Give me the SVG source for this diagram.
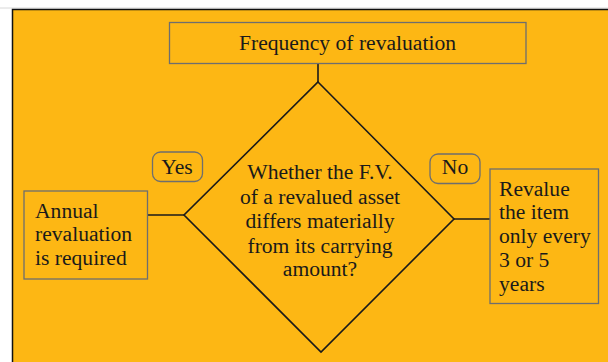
<svg xmlns="http://www.w3.org/2000/svg" width="608" height="362" viewBox="0 0 608 362">
<style>
  .box { fill: none; stroke: #6e6e6e; stroke-width: 1.3; }
  .pill { fill: none; stroke: #6e6e6e; stroke-width: 1.3; }
  .line { fill: none; stroke: #1a1a1a; stroke-width: 1.6; }
  text { font-family: "Liberation Serif", "DejaVu Serif", serif; font-size: 21.6px; fill: #1a1a1a; }
  .c { text-anchor: middle; }
</style>
<rect x="0" y="0" width="608" height="362" fill="#ffffff"/>
<line x1="0" y1="8" x2="608" y2="8" stroke="#d8d8d8" stroke-width="1"/>
<rect x="12.5" y="9.5" width="600" height="360" fill="#FDB714" stroke="#111111" stroke-width="1.5"/>

<g id="connectors">
  <line class="line" x1="318" y1="63.5" x2="318" y2="82"/>
  <line class="line" x1="148" y1="215" x2="184" y2="215"/>
  <line class="line" x1="454" y1="219" x2="490" y2="219"/>
</g>

<g id="title">
  <rect class="box" x="169.5" y="22.5" width="356.5" height="41"/>
  <text class="c" x="347.5" y="50">Frequency of revaluation</text>
</g>

<g id="decision">
  <polygon class="line" points="318,82 454,219 321,352 184,215"/>
  <text class="c" x="320" y="179">Whether the F.V.</text>
  <text class="c" x="320" y="204">of a revalued asset</text>
  <text class="c" x="320" y="228">differs materially</text>
  <text class="c" x="320" y="252.5">from its carrying</text>
  <text class="c" x="320" y="276">amount?</text>
</g>

<g id="yes-label">
  <rect class="pill" x="152.5" y="152" width="50" height="29.5" rx="8"/>
  <text class="c" x="177" y="173.5">Yes</text>
</g>

<g id="no-label">
  <rect class="pill" x="430" y="154" width="50" height="29.5" rx="8"/>
  <text class="c" x="455" y="173.5">No</text>
</g>

<g id="annual">
  <rect class="box" x="24" y="191" width="123.5" height="88"/>
  <text x="35" y="217.5">Annual</text>
  <text x="35" y="241">revaluation</text>
  <text x="35" y="264.5">is required</text>
</g>

<g id="revalue">
  <rect class="box" x="490" y="169" width="108.5" height="134.5"/>
  <text x="499" y="195.5">Revalue</text>
  <text x="499" y="219">the item</text>
  <text x="499" y="243">only every</text>
  <text x="499" y="267">3 or 5</text>
  <text x="499" y="290.5">years</text>
</g>
</svg>
